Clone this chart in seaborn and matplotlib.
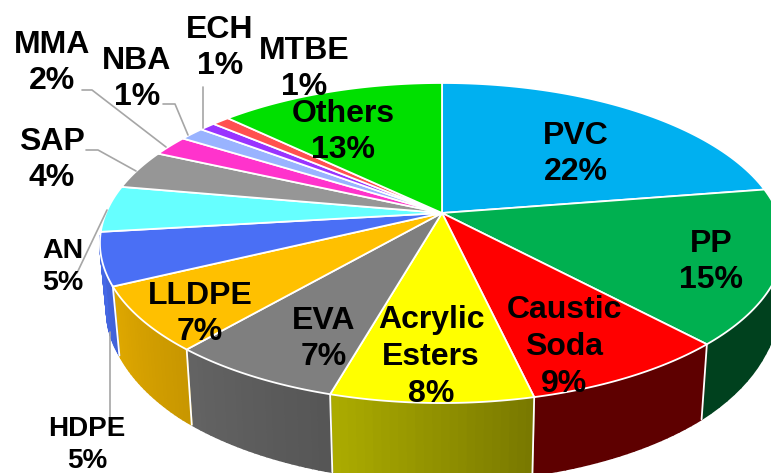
import numpy as np
import seaborn as sns
import matplotlib.pyplot as plt

names = ['PVC', 'PP', 'Caustic\nSoda', 'Acrylic\nEsters', 'EVA', 'LLDPE', 'HDPE', 'AN',
         'SAP', 'MMA', 'NBA', 'ECH', 'MTBE', 'Others']
shares = [22.5, 15.6, 8.3, 8.0, 6.9, 6.5, 5.3, 4.7, 4.0, 2.1, 1.4, 0.9, 1.0, 12.8]
labels = [22, 15, 9, 8, 7, 7, 5, 5, 4, 2, 1, 1, 1, 13]
colors = ['#00b0f0', '#00b050', '#ff0000', '#ffff00', '#7f7f7f', '#ffc000', '#4a6ff5',
          '#66ffff', '#969696', '#ff33cc', '#99b3ff', '#9933ff', '#ff5050', '#00e000']

sns.set_theme(style='white')
plt.rcParams['font.family'] = ['Liberation Sans', 'DejaVu Sans']
palette = sns.color_palette(colors)

# pie geometry in pixels, tilted by a simple perspective
cx, cy = 442, 213
A, B, k = 154.4, 336, 0.1875


def top_xy(a):
    u, v = np.sin(a), np.cos(a)
    w = 1 + k * v
    return cx + B * u / w, cy - A * v / w


def bottom_xy(a):
    x, y = top_xy(a)
    return cx + 0.98 * (x - cx), y + np.interp(y, [286, 343, 394], [69, 75, 78])


def wall_shade(deg):
    return np.interp(deg, [166.8, 167, 195, 220, 243, 265],
                     [0.37, 0.47, 0.67, 0.78, 0.87, 0.95])


fig = plt.figure(figsize=(7.71, 4.73), dpi=100)
ax = fig.add_axes([0, 0, 1, 1])
ax.set_xlim(0, 771)
ax.set_ylim(473, 0)
ax.axis('off')

edges = np.radians(np.concatenate([[0], np.cumsum(shares)]) * 3.6)
wall_lo, wall_hi = np.radians(85), np.radians(262)

# side walls first, the top faces go over them
for i, col in enumerate(palette):
    lo, hi = max(edges[i], wall_lo), min(edges[i + 1], wall_hi)
    if lo >= hi:
        continue
    steps = np.linspace(lo, hi, 25)
    for a0, a1 in zip(steps[:-1], steps[1:]):
        mid = np.degrees((a0 + a1) / 2)
        shade = tuple(c * wall_shade(mid) for c in col)
        xs = [top_xy(a0)[0], top_xy(a1)[0], bottom_xy(a1)[0], bottom_xy(a0)[0]]
        ys = [top_xy(a0)[1], top_xy(a1)[1], bottom_xy(a1)[1], bottom_xy(a0)[1]]
        ax.fill(xs, ys, color=shade, lw=1.2, zorder=1)

# white seams between the wall pieces
for a in edges:
    if wall_lo < a < wall_hi:
        ax.plot([top_xy(a)[0], bottom_xy(a)[0]], [top_xy(a)[1], bottom_xy(a)[1]],
                color='white', lw=1.3, zorder=2)

for i, col in enumerate(palette):
    arc = np.linspace(edges[i], edges[i + 1], 60)
    xs, ys = top_xy(arc)
    ax.fill(np.r_[cx, xs], np.r_[cy, ys], facecolor=col, edgecolor='white', lw=1.3, zorder=3)

# leader lines
leaders = [([82, 92, 166], [90, 90, 147]), ([163, 175, 188], [104, 104, 135]),
           ([203, 203], [87, 128]), ([86, 98, 136], [150, 150, 171]),
           ([107, 77], [210, 273]), ([110, 110], [332, 417])]
for lx, ly in leaders:
    ax.plot(lx, ly, color='#a6a6a6', lw=1.2, zorder=4)

label_pos = [(576, 154), (711, 262), (564, 347), (431, 357), (324, 339), (200, 314), (87, 445),
             (63, 267), (52, 160), (52, 63), (137, 79), (220, 48), (304, 69), (343, 132)]
label_size = [23, 23, 23, 23, 23, 23, 20, 20.5, 23, 23, 23, 23, 23, 23]
for name, pct, (tx, ty), fs in zip(names, labels, label_pos, label_size):
    ax.text(tx, ty, f'{name}\n{pct}%', ha='center', va='center', fontsize=fs,
            fontweight='bold', color='black', linespacing=1.3, zorder=5)

fig.savefig('out.png', dpi=100)
